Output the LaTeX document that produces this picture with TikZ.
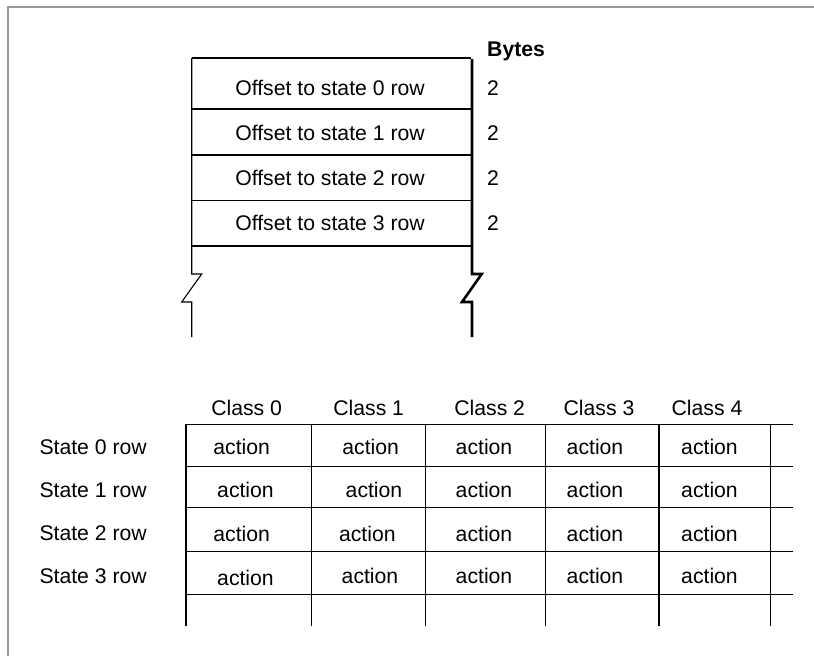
\documentclass[tikz,border=0pt]{standalone}
\usepackage{fontspec}
\setmainfont{Liberation Sans}
\begin{document}
\begin{tikzpicture}[x=1pt,y=-1pt,
  txt/.style={inner sep=0pt, font=\fontsize{21.2}{24}\selectfont},
  lbl/.style={txt, anchor=west},
  frame/.style={draw=black!40, line width=1.5pt},
  grid/.style={draw=black, line width=1.1pt},
  thickside/.style={draw=black, line width=2.6pt}]
\useasboundingbox (0,0) rectangle (814,656);
% outer frame (top and left only)
\draw[frame] (8,656) -- (8,7) -- (814,7);

% ---------- upper block ----------
\coordinate (tl) at (191.7,58);
\coordinate (tr) at (471,58);
\draw[grid] (tl) -- (tr);
\foreach \y in {109,155,200.7,246} \draw[grid] (191.7,\y) -- (471,\y);
% left side with break
\draw[grid, line join=miter] (tl) -- (191.7,274) -- (201.7,274) -- (181.7,302) -- (191.7,302) -- (191.7,337);
% right side with break (thick)
\draw[thickside, line join=miter] (472,59) -- (472,274) -- (481.7,274) -- (462,302) -- (472,302) -- (472,337);

\node[txt] (o0) at (330,87.7) {Offset to state 0 row};
\node[txt] (o1) at (330,133.3) {Offset to state 1 row};
\node[txt] (o2) at (330,177.7) {Offset to state 2 row};
\node[txt] (o3) at (330,223.3) {Offset to state 3 row};

\node[lbl, font=\fontsize{21.2}{24}\selectfont\bfseries] (bytes) at (487,51.5) {Bytes};
\node[lbl] (b0) at (487,87.7) {2};
\node[lbl] (b1) at (487,133.3) {2};
\node[lbl] (b2) at (487,177.7) {2};
\node[lbl] (b3) at (487,223.3) {2};

% ---------- lower table ----------
\foreach \y in {424.3,466.7,507.3,551.7,594.3} \draw[grid] (186,\y) -- (793,\y);
\foreach \x in {186,311.7,425.7,545.7,659,770.3} \draw[grid] (\x,424.3) -- (\x,626);

\node[txt] (c0) at (246.6,408.3) {Class 0};
\node[txt] (c1) at (368.7,408.3) {Class 1};
\node[txt] (c2) at (489.7,408.3) {Class 2};
\node[txt] (c3) at (599,408.3) {Class 3};
\node[txt] (c4) at (707,408.3) {Class 4};

\node[lbl] (s0) at (39.3,446.7) {State 0 row};
\node[lbl] (s1) at (39.3,490) {State 1 row};
\node[lbl] (s2) at (39.3,533.3) {State 2 row};
\node[lbl] (s3) at (39.3,576) {State 3 row};

% actions: row 0
\node[txt] (a00) at (241.7,447.3) {action};
\node[txt] (a01) at (370.7,447.3) {action};
\node[txt] (a02) at (484,447.3) {action};
\node[txt] (a03) at (595,447.3) {action};
\node[txt] (a04) at (709.5,447.3) {action};
% row 1
\node[txt] (a10) at (245.5,490) {action};
\node[txt] (a11) at (374,490) {action};
\node[txt] (a12) at (484,490) {action};
\node[txt] (a13) at (595,490) {action};
\node[txt] (a14) at (709.5,490) {action};
% row 2
\node[txt] (a20) at (241.7,534) {action};
\node[txt] (a21) at (367.3,534) {action};
\node[txt] (a22) at (484,534) {action};
\node[txt] (a23) at (595,534) {action};
\node[txt] (a24) at (709.5,534) {action};
% row 3
\node[txt] (a30) at (245.5,577.5) {action};
\node[txt] (a31) at (370,575.5) {action};
\node[txt] (a32) at (484,575.5) {action};
\node[txt] (a33) at (595,575.5) {action};
\node[txt] (a34) at (709.5,575.5) {action};
\end{tikzpicture}
\end{document}
